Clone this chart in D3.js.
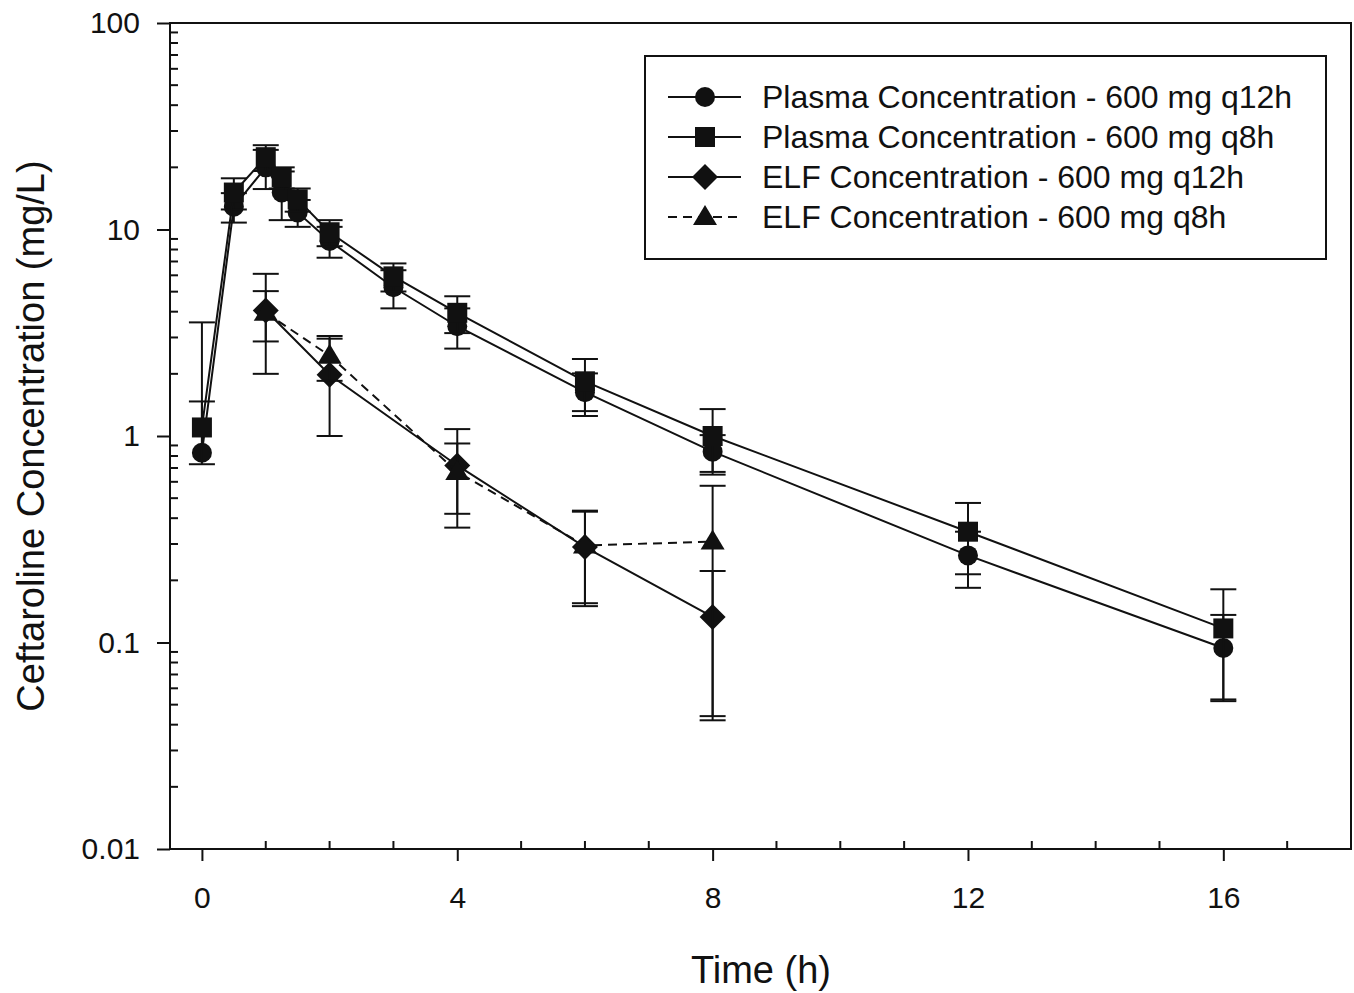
<!DOCTYPE html>
<html>
<head>
<meta charset="utf-8">
<script src="https://cdn.jsdelivr.net/npm/d3@7"></script>
<style>
  body { margin: 0; background: #fff; }
  text { font-family: Arial, "Liberation Sans", sans-serif; fill: #111; }
</style>
</head>
<body>
<div id="chart"></div>
<script>
// data
var plasmaTimes = [0, 0.5, 1, 1.25, 1.5, 2, 3, 4, 6, 8, 12, 16];
var plasmaQ12 = [0.83, 12.9, 20.0, 15.1, 12.1, 8.8, 5.25, 3.4, 1.63, 0.84, 0.264, 0.094];
var plasmaQ12Sd = [2.72, 2.1, 4.3, 4.0, 1.8, 1.5, 1.1, 0.75, 0.38, 0.17, 0.08, 0.042];
var plasmaQ8 = [1.10, 15.1, 22.4, 17.9, 14.0, 9.7, 5.93, 3.95, 1.84, 1.0, 0.344, 0.117];
var plasmaQ8Sd = [0.37, 2.6, 3.2, 2.1, 1.8, 1.4, 0.92, 0.8, 0.52, 0.35, 0.13, 0.064];
var elfTimes = [1, 2, 4, 6, 8];
var elfQ12 = [4.05, 1.98, 0.72, 0.29, 0.133];
var elfQ12Sd = [2.05, 0.98, 0.36, 0.14, 0.089];
var elfQ8 = [3.95, 2.45, 0.67, 0.295, 0.308];
var elfQ8Sd = [1.08, 0.6, 0.25, 0.14, 0.266];

var xMajor = [0, 4, 8, 12, 16];
var xMinor = [1, 2, 3, 5, 6, 7, 9, 10, 11, 13, 14, 15, 17];
var yMajor = [0.01, 0.1, 1, 10, 100];
var yLabels = ["0.01", "0.1", "1", "10", "100"];

var seriesNames = [
  "Plasma Concentration - 600 mg q12h",
  "Plasma Concentration - 600 mg q8h",
  "ELF Concentration - 600 mg q12h",
  "ELF Concentration - 600 mg q8h"
];

var W = 1354, H = 993;
var L = 170, R = 1351, T = 23, B = 849;

var svg = d3.select("#chart").append("svg")
    .attr("width", W)
    .attr("height", H);

var x = d3.scaleLinear().domain([-0.5, 18]).range([L, R]);
var y = d3.scaleLog().domain([0.01, 100]).range([B, T]);

// frame
svg.append("rect")
    .attr("x", L).attr("y", T)
    .attr("width", R - L).attr("height", B - T)
    .style("fill", "none").style("stroke", "#111").style("stroke-width", 2);

// x axis
var xAxis = svg.append("g")
    .attr("transform", "translate(0," + B + ")")
    .call(d3.axisBottom(x).tickValues(xMajor).tickSize(12).tickPadding(26).tickFormat(d3.format("d")));
xAxis.select(".domain").remove();
xAxis.selectAll("line").style("stroke", "#111").style("stroke-width", 2);
xAxis.selectAll("text").style("font-size", "30px").style("font-family", "Arial, 'Liberation Sans', sans-serif").style("fill", "#111");

svg.append("g").selectAll("line")
    .data(xMinor).enter().append("line")
    .attr("x1", function(d){ return x(d); })
    .attr("x2", function(d){ return x(d); })
    .attr("y1", B).attr("y2", B - 8)
    .style("stroke", "#111").style("stroke-width", 2);

// y axis
var yAxis = svg.append("g")
    .attr("transform", "translate(" + L + ",0)")
    .call(d3.axisLeft(y).tickValues(yMajor).tickSize(13).tickPadding(17)
        .tickFormat(function(d, i){ return yLabels[i]; }));
yAxis.select(".domain").remove();
yAxis.selectAll("line").style("stroke", "#111").style("stroke-width", 2);
yAxis.selectAll("text").style("font-size", "30px").style("font-family", "Arial, 'Liberation Sans', sans-serif").style("fill", "#111");

var yMinor = [];
for (var e = -2; e < 2; e++) {
    for (var m = 2; m <= 9; m++) {
        yMinor.push(m * Math.pow(10, e));
    }
}
svg.append("g").selectAll("line")
    .data(yMinor).enter().append("line")
    .attr("x1", L).attr("x2", L + 8)
    .attr("y1", function(d){ return y(d); })
    .attr("y2", function(d){ return y(d); })
    .style("stroke", "#111").style("stroke-width", 2);

// axis titles
svg.append("text")
    .attr("x", 761).attr("y", 983)
    .attr("text-anchor", "middle")
    .style("font-size", "38px")
    .text("Time (h)");

svg.append("text")
    .attr("transform", "translate(44," + y(1) + ") rotate(-90)")
    .attr("text-anchor", "middle")
    .style("font-size", "38px")
    .text("Ceftaroline Concentration (mg/L)");

// series
function makeSeries(times, vals, sds) {
    return times.map(function(t, i){ return {t: t, v: vals[i], sd: sds[i]}; });
}
var series = [
    {pts: makeSeries(plasmaTimes, plasmaQ12, plasmaQ12Sd), shape: "circle", dash: null},
    {pts: makeSeries(plasmaTimes, plasmaQ8, plasmaQ8Sd), shape: "square", dash: null},
    {pts: makeSeries(elfTimes, elfQ12, elfQ12Sd), shape: "diamond", dash: null},
    {pts: makeSeries(elfTimes, elfQ8, elfQ8Sd), shape: "triangle", dash: "9,6"}
];

function markerPath(shape) {
    if (shape === "circle") return d3.symbol().type(d3.symbolCircle).size(Math.PI * 10 * 10)();
    if (shape === "square") return "M-10,-10H10V10H-10Z";
    if (shape === "diamond") return "M0,-13L13,0L0,13L-13,0Z";
    return "M0,-12L12,8L-12,8Z";
}

var line = d3.line()
    .x(function(d){ return x(d.t); })
    .y(function(d){ return y(d.v); });

var capW = 13;
series.forEach(function(s) {
    var g = svg.append("g");
    // error bars
    s.pts.forEach(function(p) {
        var hi = p.v + p.sd, lo = p.v - p.sd;
        var cx = x(p.t);
        g.append("line")
            .attr("x1", cx).attr("x2", cx)
            .attr("y1", y(hi)).attr("y2", y(p.v))
            .style("stroke", "#111").style("stroke-width", 2);
        g.append("line")
            .attr("x1", cx - capW).attr("x2", cx + capW)
            .attr("y1", y(hi)).attr("y2", y(hi))
            .style("stroke", "#111").style("stroke-width", 2);
        if (lo > 0) {
            g.append("line")
                .attr("x1", cx).attr("x2", cx)
                .attr("y1", y(p.v)).attr("y2", y(lo))
                .style("stroke", "#111").style("stroke-width", 2);
            g.append("line")
                .attr("x1", cx - capW).attr("x2", cx + capW)
                .attr("y1", y(lo)).attr("y2", y(lo))
                .style("stroke", "#111").style("stroke-width", 2);
        }
    });
    g.append("path")
        .datum(s.pts)
        .attr("d", line)
        .style("fill", "none")
        .style("stroke", "#111")
        .style("stroke-width", 2)
        .style("stroke-dasharray", s.dash);
    g.selectAll("path.mk")
        .data(s.pts).enter().append("path")
        .attr("class", "mk")
        .attr("d", markerPath(s.shape))
        .attr("transform", function(d){ return "translate(" + x(d.t) + "," + y(d.v) + ")"; })
        .style("fill", "#111");
});

// legend
var lg = svg.append("g");
lg.append("rect")
    .attr("x", 645).attr("y", 56)
    .attr("width", 681).attr("height", 203)
    .style("fill", "#fff").style("stroke", "#111").style("stroke-width", 2);
var rowY = [97, 137, 177, 217];
series.forEach(function(s, i) {
    lg.append("line")
        .attr("x1", 668).attr("x2", 741)
        .attr("y1", rowY[i]).attr("y2", rowY[i])
        .style("stroke", "#111").style("stroke-width", 2)
        .style("stroke-dasharray", s.dash);
    lg.append("path")
        .attr("d", markerPath(s.shape))
        .attr("transform", "translate(705," + rowY[i] + ")")
        .style("fill", "#111");
    lg.append("text")
        .attr("x", 762).attr("y", rowY[i] + 11)
        .style("font-size", "32px")
        .text(seriesNames[i]);
});
</script>
</body>
</html>
